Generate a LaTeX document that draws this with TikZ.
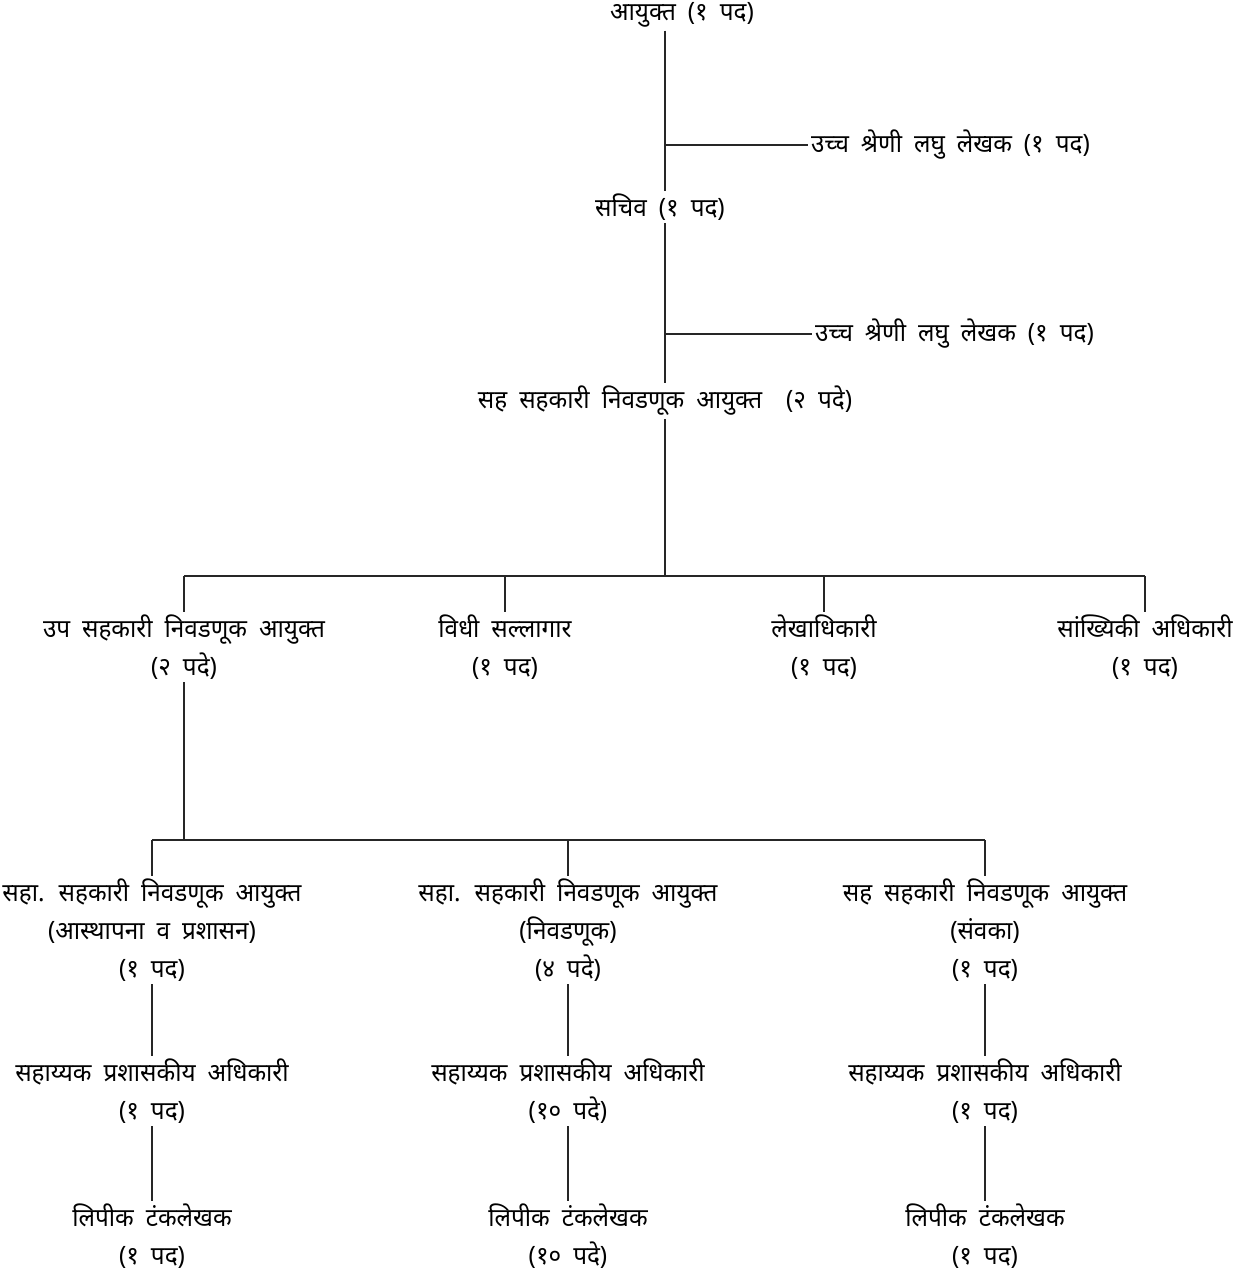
\documentclass[tikz,border=0pt]{standalone}
\usepackage{fontspec}
\newfontfamily\devfont[Script=Devanagari,FakeStretch=0.96,WordSpace=1.9]{Noto Sans}
\usepackage{xcolor}

\begin{document}
\begin{tikzpicture}[x=0.025cm,y=-0.025cm]
 \tikzstyle{every node}=[font=\devfont\fontsize{18}{27}\selectfont,
                       align=center, inner sep=2pt]
 \tikzstyle{link}=[draw=black!85, line width=0.8pt]

        \useasboundingbox (0,0) rectangle (1247,1275);

        % top
        \node (com) at (682,15) {आयुक्त (१ पद)};
        \node (sec) at (660,207) {सचिव (१ पद)};
        \node (jca) at (665,401) {सह सहकारी निवडणूक आयुक्त~~(२ पदे)};
        \node[anchor=west] (st1) at (808,145) {उच्च श्रेणी लघु लेखक (१ पद)};
        \node[anchor=west] (st2) at (812,334) {उच्च श्रेणी लघु लेखक (१ पद)};

        \coordinate (j1) at (665,145);
        \coordinate (j2) at (665,334);
        \coordinate (bus1) at (665,576);
        \coordinate (bus2) at (184,840);

        % second row
        \node (dep) at (184,647) {उप सहकारी निवडणूक आयुक्त\\(२ पदे)};
        \node (law) at (505,647) {विधी सल्लागार\\(१ पद)};
        \node (acc) at (824,647) {लेखाधिकारी\\(१ पद)};
        \node (stat) at (1145,647) {सांख्यिकी अधिकारी\\(१ पद)};

        % third row
        \node (aec1) at (152,930) {सहा. सहकारी निवडणूक आयुक्त\\(आस्थापना व प्रशासन)\\(१ पद)};
        \node (aec2) at (568,930) {सहा. सहकारी निवडणूक आयुक्त\\(निवडणूक)\\(४ पदे)};
        \node (aec3) at (985,930) {सह सहकारी निवडणूक आयुक्त\\(संवका)\\(१ पद)};

        \node (apo1) at (152,1091) {सहाय्यक प्रशासकीय अधिकारी\\(१ पद)};
        \node (apo2) at (568,1091) {सहाय्यक प्रशासकीय अधिकारी\\(१० पदे)};
        \node (apo3) at (985,1091) {सहाय्यक प्रशासकीय अधिकारी\\(१ पद)};

        \node (clk1) at (152,1236) {लिपीक टंकलेखक\\(१ पद)};
        \node (clk2) at (568,1236) {लिपीक टंकलेखक\\(१० पदे)};
        \node (clk3) at (985,1236) {लिपीक टंकलेखक\\(१ पद)};

        \path[link]
    (com.south -| j1) edge (sec.north -| j1)
    (sec.south -| j2) edge (jca.north -| j2)
    (j1) edge (st1.west)
    (j2) edge (st2.west)
    (jca.south) edge (bus1)
    (bus1 -| dep) edge (bus1 -| stat)
    (dep.south) edge (bus2)
    (bus2 -| aec1) edge (bus2 -| aec3);

        \foreach \n in {dep,law,acc,stat}
            \path[link] (bus1 -| \n) edge (\n.north);
        \foreach \n in {aec1,aec2,aec3}
            \path[link] (bus2 -| \n) edge (\n.north);

        \foreach \i in {1,2,3}{
            \path[link] (aec\i.south) edge (apo\i.north);
            \path[link] (apo\i.south) edge (clk\i.north);
        }

\end{tikzpicture}
\end{document}
